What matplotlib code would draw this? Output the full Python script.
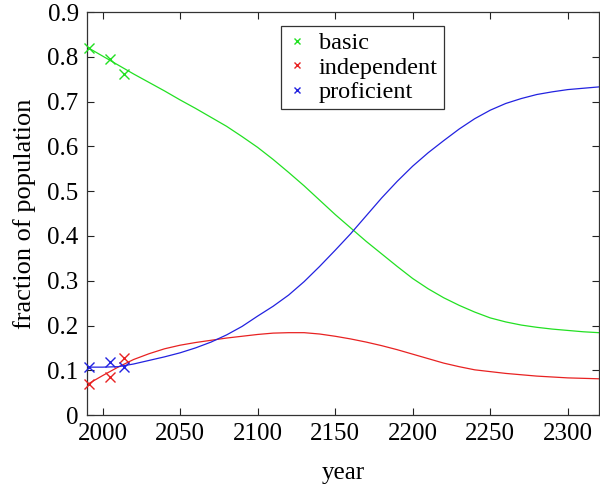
import matplotlib
matplotlib.use("Agg")
import matplotlib.pyplot as plt

years = [1990, 2000, 2010, 2020, 2030, 2040, 2050, 2060, 2070, 2080, 2090,
         2100, 2110, 2120, 2130, 2140, 2150, 2160, 2170, 2180, 2190, 2200,
         2210, 2220, 2230, 2240, 2250, 2260, 2270, 2280, 2290, 2300, 2310, 2320]

basic_fit = [0.822, 0.802, 0.782, 0.762, 0.743, 0.724, 0.704, 0.685, 0.665, 0.645, 0.622,
             0.598, 0.571, 0.542, 0.512, 0.480, 0.448, 0.418, 0.388, 0.360, 0.332, 0.305,
             0.282, 0.262, 0.245, 0.230, 0.217, 0.208, 0.201, 0.196, 0.192, 0.189, 0.186, 0.184]

independent_fit = [0.068, 0.088, 0.107, 0.124, 0.137, 0.148, 0.156, 0.162, 0.167, 0.172, 0.176,
                   0.180, 0.183, 0.184, 0.184, 0.181, 0.176, 0.170, 0.163, 0.155, 0.146, 0.136,
                   0.126, 0.116, 0.108, 0.101, 0.097, 0.093, 0.090, 0.087, 0.085, 0.083, 0.082, 0.081]

proficient_fit = [0.107, 0.107, 0.108, 0.114, 0.122, 0.130, 0.139, 0.150, 0.163, 0.179, 0.198,
                  0.221, 0.243, 0.268, 0.298, 0.332, 0.368, 0.405, 0.445, 0.485, 0.522, 0.556,
                  0.586, 0.613, 0.639, 0.662, 0.681, 0.696, 0.707, 0.716, 0.722, 0.727, 0.730, 0.733]

obs_years = [1991, 2005, 2014]
basic_obs = [0.821, 0.795, 0.761]
independent_obs = [0.069, 0.084, 0.128]
proficient_obs = [0.107, 0.118, 0.107]

labels = ["basic", "independent", "proficient"]
colors = ["#22e022", "#e82222", "#2222e0"]

plt.rcParams['font.family'] = ['Liberation Serif', 'DejaVu Serif']
plt.rcParams['mathtext.fontset'] = 'stix'

fig = plt.figure(figsize=(6.0, 4.86), dpi=100)
ax = fig.add_axes([0.145, 0.146, 0.853, 0.829])

fits = [basic_fit, independent_fit, proficient_fit]
obs = [basic_obs, independent_obs, proficient_obs]
for lab, c, f, o in zip(labels, colors, fits, obs):
    ax.plot(obs_years, o, linestyle='none', marker='x', markersize=6.5,
            markeredgewidth=1.0, color=c, label=lab, clip_on=False, zorder=3)
    ax.plot(years, f, color=c, linewidth=0.9, zorder=2)

ax.set_xlim(1990, 2320)
ax.set_ylim(0, 0.9)
ax.set_xticks([2000, 2050, 2100, 2150, 2200, 2250, 2300])
ax.set_yticks([0, 0.1, 0.2, 0.3, 0.4, 0.5, 0.6, 0.7, 0.8, 0.9])
ax.set_yticklabels(["0", "0.1", "0.2", "0.3", "0.4", "0.5", "0.6", "0.7", "0.8", "0.9"])
ax.tick_params(direction='in', top=True, right=True, length=5, width=0.8,
               colors='#222222', labelsize=18, pad=6, labelcolor='black')
for s in ax.spines.values():
    s.set_color('#333333')
    s.set_linewidth(0.9)

ax.set_xlabel("year", fontsize=18, labelpad=12)
ax.set_ylabel("fraction of population", fontsize=19, labelpad=8)

leg = ax.legend(loc='upper left', bbox_to_anchor=(0.379, 0.965), borderaxespad=0,
                fontsize=17.5, markerscale=0.7, fancybox=False, framealpha=1,
                edgecolor='#333333', handlelength=0.8, handletextpad=0.5,
                labelspacing=0.1, borderpad=0.25)
leg.get_frame().set_linewidth(0.9)

fig.savefig("out.png", dpi=100)
